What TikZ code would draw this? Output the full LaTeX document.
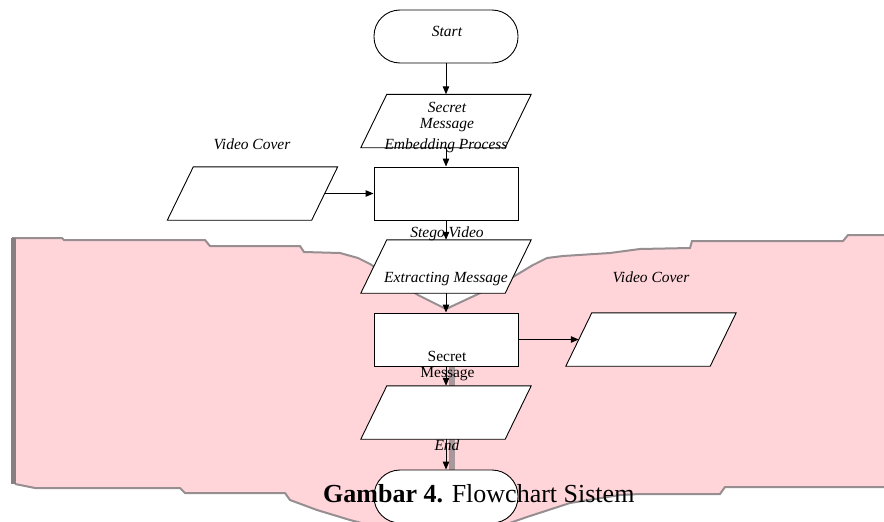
\documentclass[tikz,border=0pt]{standalone}
\usepackage{fontspec}
\setmainfont{Liberation Serif}
\usetikzlibrary{arrows.meta,calc}
\definecolor{pinkbg}{RGB}{255,213,218}
\definecolor{edgegray}{RGB}{150,142,144}
\definecolor{stripgray}{RGB}{168,152,156}
\tikzset{
  shapebox/.style={draw=black, line width=0.9pt, fill=white, inner sep=0pt, minimum width=144pt, minimum height=53pt},
  termbox/.style={shapebox, rounded corners=26pt},
  frame/.style={inner sep=0pt, minimum width=170pt, minimum height=53pt},
  paraline/.style={draw=black, line width=0.9pt, fill=white},
  lbl/.style={inner sep=0pt, anchor=base, font=\itshape\fontsize{15.5}{16}\selectfont},
  ulbl/.style={inner sep=0pt, anchor=base, font=\fontsize{15.5}{16}\selectfont},
  flow/.style={line width=1pt, -{Triangle[length=8pt,width=6.5pt]}},
  edgeline/.style={draw=edgegray, line width=2pt},
}
\newcommand\paradraw[1]{\path[paraline] ($(#1.north west)+(26,0)$) -- (#1.north east) -- ($(#1.south east)+(-26,0)$) -- (#1.south west) -- cycle;}
\begin{document}
\begin{tikzpicture}[x=1pt,y=-1pt]
\useasboundingbox (0,0) rectangle (884,522);
\clip (0,0) rectangle (884,522);
% background pink sheet
\fill[pinkbg] (12,238) -- (62,238) -- (64,240) -- (205,240) -- (210,246) -- (300,246) -- (304,252) -- (340,253) -- (358,258) -- (370,264) -- (418,295) -- (446,309) -- (476,295) -- (513,277) -- (533,265) -- (547,258) -- (563,256) -- (610,253) -- (640,249) -- (690,248) -- (692,241) -- (843,241) -- (848,235) -- (884,235) -- (884,487) -- (725,487) -- (720,494) -- (640,494) -- (620,495) -- (570,503) -- (527,517) -- (446,545) -- (350,520) -- (317,510) -- (290,500) -- (285,493) -- (185,493) -- (180,488) -- (35,488) -- (15,484) -- cycle;
\draw[edgeline] (12,238) -- (62,238) -- (64,240) -- (205,240) -- (210,246) -- (300,246) -- (304,252) -- (340,253) -- (358,258) -- (370,264) -- (418,295) -- (446,309) -- (476,295) -- (513,277) -- (533,265) -- (547,258) -- (563,256) -- (610,253) -- (640,249) -- (690,248) -- (692,241) -- (843,241) -- (848,235) -- (884,235);
\draw[edgeline] (884,487) -- (725,487) -- (720,494) -- (640,494) -- (620,495) -- (570,503) -- (527,517) -- (446,545) -- (350,520) -- (317,510) -- (290,500) -- (285,493) -- (185,493) -- (180,488) -- (35,488) -- (15,484);
\draw[draw=edgegray!90!black, line width=5pt] (13,238) -- (13,484);
\fill[stripgray] (449,366) rectangle (455,470);
% shapes
\node[termbox] (start) at (446,36.5) {};
\node[frame] (p1) at (446,121) {};
\paradraw{p1}
\node[shapebox] (r1) at (446,193.5) {};
\node[frame] (lp) at (252.5,193.5) {};
\paradraw{lp}
\node[frame] (p2) at (446,266.5) {};
\paradraw{p2}
\node[shapebox] (r2) at (446,339.5) {};
\node[frame] (rp) at (651,339.5) {};
\paradraw{rp}
\node[frame] (p3) at (446,412.5) {};
\paradraw{p3}
\node[termbox] (end) at (446,496.5) {};
\coordinate (lpout) at ($(lp.east)+(-13,0)$);
\coordinate (rpin) at ($(rp.west)+(13,0)$);
% connectors
\draw[flow] (start) -- (p1);
\draw[flow] (p1) -- (r1);
\draw[flow] (lpout) -- (r1.west);
\draw[flow] (r1) -- (p2);
\draw[flow] (p2) -- (r2);
\draw[flow] (r2.east) -- (rpin);
\draw[flow] (r2) -- (p3);
\draw[flow] (p3) -- (end);
% labels
\node[lbl] (tStart) at (447,36) {Start};
\node[lbl] (tSM1) at (447,112) {Secret};
\node[lbl] (tSM2) at (447,128) {Message};
\node[lbl] (tEmb) at (446,149) {Embedding Process};
\node[lbl] (tVC1) at (252,149) {Video Cover};
\node[lbl] (tSV) at (447,237) {Stego Video};
\node[lbl] (tEx) at (446,282) {Extracting Message};
\node[lbl] (tVC2) at (651,282) {Video Cover};
\node[ulbl] (tSec) at (447,361) {Secret};
\node[ulbl] (tMsg) at (447.5,377) {Message};
\node[lbl] (tEnd) at (447,450) {End};
\node[inner sep=0pt, anchor=base west, font=\fontsize{26}{30}\selectfont] (cap) at (323,502) {\textbf{Gambar 4.} Flowchart Sistem};
\end{tikzpicture}
\end{document}
